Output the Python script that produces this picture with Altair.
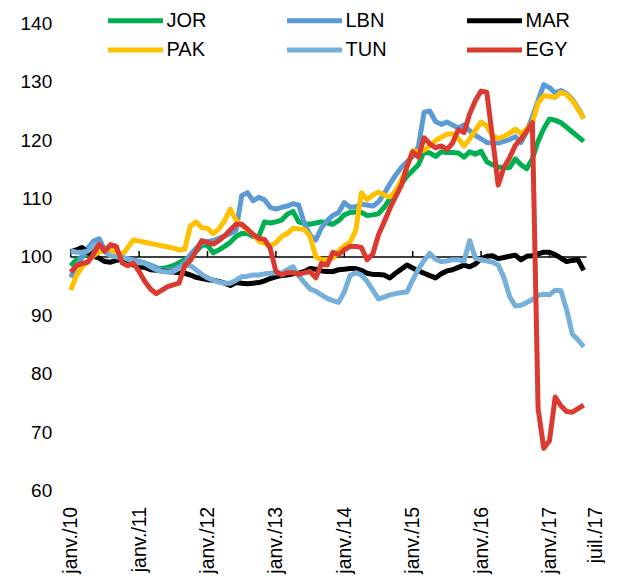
import altair as alt
import pandas as pd

FONT = "Liberation Sans, Arial, sans-serif"

months = list(range(91))  # 0 = janv. 2010 ... 90 = juil. 2017

series_names = ["JOR", "LBN", "MAR", "PAK", "TUN", "EGY"]
series_colors = ["#00B050", "#5B9BD5", "#000000", "#FFC000", "#76AFDA", "#DA3A2F"]

JOR = [98.5, 99.5, 100, 100.5, 101.5, 102, 101.5, 101.5, 101, 100,
       99.5, 99.5, 99, 98.5, 98.2, 98, 98, 98.2, 98.5, 99,
       99.5, 100, 100.9, 102, 102, 100.7, 101.2, 101.8, 102.5, 103.5,
       104, 104, 103.5, 103.5, 106, 105.8, 106, 106.3, 107.3, 107.8,
       106, 105.7, 105.6, 105.8, 106, 105.8, 105.6, 106.2, 107.2, 107.6,
       107.7, 107.6, 107.1, 107.2, 107.4, 108.5, 110, 111.3, 112.5, 113.8,
       114.8, 115.8, 118, 117.8, 117.2, 118, 117.9, 117.9, 117.8, 117.1,
       118, 117.6, 118.1, 116.3, 115.8, 115.4, 115.3, 115.3, 116.8, 115.8,
       115.1, 116.8, 119.8, 122, 123.6, 123.4, 123, 122.2, 121.4, 120.6,
       119.8]

LBN = [96.5, 98.5, 100, 101.5, 102.7, 103.1, 101.2, 101.7, 101, 99.7,
       99.7, 99.5, 99.2, 99, 98.6, 98.2, 97.7, 97.7, 97.8, 98.3,
       99, 100.4, 101.5, 102.3, 102.6, 102.8, 103.2, 103.6, 104, 104.5,
       110.5, 111, 109.6, 110.2, 109.8, 108.5, 108.2, 108.5, 108.7, 109.1,
       108.9, 105.7, 103.7, 102.9, 105, 106.2, 107.1, 107.6, 109.3, 108.5,
       108.6, 109, 108.9, 108.7, 109.4, 110.8, 112.5, 114, 115.3, 116.3,
       117.2, 118.9, 124.8, 125, 123.2, 122.7, 123.1, 122.6, 122, 122.6,
       121.6, 120.8, 120.2, 119.6, 119.5, 119.5, 119.8, 120.1, 120.6, 119.6,
       121.5, 124, 126.8, 129.5, 129, 128.1, 128.5, 128, 127, 125.5,
       123.7]

MAR = [100.9, 101.2, 101.6, 100.8, 100.1, 99.8, 99.2, 99.1, 99.4, 99.6,
       99.3, 98.6, 98.3, 98.2, 97.8, 97.7, 97.6, 97.5, 97.4, 97.3,
       97.2, 96.9, 96.5, 96.3, 96.1, 96, 95.8, 95.5, 95.1, 95.6,
       95.5, 95.4, 95.5, 95.6, 95.9, 96.3, 96.6, 96.8, 96.9, 97.1,
       97.2, 97.5, 98, 97.9, 97.6, 97.5, 97.5, 97.8, 97.9, 98,
       98, 97.7, 97.2, 97, 97, 96.9, 96.4, 97.2, 97.9, 98.6,
       98.1, 97.6, 97.2, 96.8, 96.4, 97.1, 97.6, 97.8, 98.2, 98.6,
       98.3, 98.8, 99.7, 100.1, 100.2, 99.7, 99.9, 100.1, 100.3, 99.5,
       100.1, 100.2, 100.5, 100.8, 100.8, 100.4, 99.8, 99.2, 99.4, 99.5,
       97.7]

PAK = [94.3, 96.8, 98.3, 99.2, 100.2, 100.9, 101, 101.1, 100.9, 100.3,
       101.6, 102.9, 102.7, 102.5, 102.3, 102.1, 101.9, 101.7, 101.5, 101.2,
       101.3, 105.3, 106, 105, 104.9, 104, 104.8, 106.2, 108.2, 106.3,
       105.4, 104.6, 103.9, 102.7, 102.3, 101.9, 102.4, 103.5, 104, 104.9,
       104.8, 104.7, 103.5, 100, 99.5, 99.5, 99.8, 101, 101.9, 102.5,
       104.5, 111, 109.8, 110.6, 111.1, 110.6, 110.3, 111.2, 113.2, 115.4,
       118.2, 118, 118.3, 119, 119.9, 120.5, 121, 121.1, 120.3, 119,
       120.2, 121.7, 123.1, 122.4, 120.8, 120.3, 120.6, 121.2, 121.9, 121.1,
       121.9, 123, 126.4, 127.6, 127.5, 127.3, 128.2, 127.8, 126.8, 125.3,
       123.7]

TUN = [101, 100.8, 100.8, 101, 102, 102.3, 100.8, 100.2, 100, 100,
       99.6, 99.2, 99, 98.9, 98.3, 97.8, 97.5, 97.4, 97.5, 98,
       98.5, 98.5, 97.8, 97, 96.4, 96, 95.7, 95.5, 95.5, 96,
       96.6, 96.7, 96.9, 96.9, 97.1, 97.2, 97.3, 97.2, 97.8, 98.3,
       96.8, 95.6, 94.5, 94.1, 93.5, 92.9, 92.5, 92.2, 94, 96.8,
       97.3, 96.9, 95.8, 94.3, 92.8, 93.1, 93.5, 93.7, 93.9, 94,
       96, 97.9, 99.4, 100.6, 99.6, 99.2, 99.3, 99.5, 99.5, 99.3,
       102.8, 99.8, 99.5, 99.3, 99.1, 98.6, 96.5, 93.2, 91.6, 91.7,
       92.2, 92.7, 93.4, 93.6, 93.5, 94.3, 94.2, 91, 86.8, 85.8,
       84.6]

EGY = [97.4, 98.5, 98.9, 99.1, 100.5, 102.2, 101, 102.1, 101.8, 99,
       98.5, 98.9, 97.5, 95.8, 94.5, 93.7, 94.3, 94.9, 95.2, 95.5,
       98.5, 99.4, 101, 102.8, 102.5, 102.2, 102.8, 103.6, 104.6, 105.6,
       105.6, 104.8, 103.8, 103.2, 103, 101.5, 97.5, 96.9, 97.3, 97.3,
       97, 97.3, 97.5, 96.4, 98.9, 98.6, 100.8, 100.4, 101.2, 101.8,
       101.8, 101.6, 99.5, 100.5, 103.8, 106, 108.3, 110.3, 112.2, 115.5,
       118, 117.1, 120.4, 119.4, 118.7, 119, 118.4, 119.5, 121.8, 121.3,
       124.5, 126.8, 128.4, 128.2, 120.5, 112.3, 115.3, 117, 119.1, 120.2,
       121.5, 123, 74, 67.2, 68.5, 76, 74.5, 73.5, 73.4, 74,
       74.6]

series_values = [JOR, LBN, MAR, PAK, TUN, EGY]

y_ticks = [60, 70, 80, 90, 100, 110, 120, 130, 140]
label_months = [0, 12, 24, 36, 48, 60, 72, 84, 92]
label_texts = ["janv./10", "janv./11", "janv./12", "janv./13", "janv./14",
               "janv./15", "janv./16", "janv./17", "juil./17"]
axis_cross = 100
axis_span = [0, 90.5]
tick_months = [0, 12, 24, 36, 48, 60, 72, 84]
tick_top = 101

rows = []
for name, vals in zip(series_names, series_values):
    for m, v in zip(months, vals):
        rows.append({"m": m, "v": v, "series": name})
df = pd.DataFrame(rows)

axis_df = pd.DataFrame({"m": [axis_span[0]], "m2": [axis_span[1]], "v": [axis_cross]})
ticks_df = pd.DataFrame({"m": tick_months, "v": [axis_cross] * len(tick_months),
                         "v2": [tick_top] * len(tick_months)})

label_expr = "[" + ",".join("'%s'" % t for t in label_texts) + "][indexof([" + \
    ",".join(str(v) for v in label_months) + "], datum.value)]"

x_scale = alt.Scale(domain=[0, 92], nice=False, zero=False)
y_scale = alt.Scale(domain=[60, 140], nice=False, zero=False)

x_enc = alt.X("m:Q", scale=x_scale,
              axis=alt.Axis(values=label_months, labelExpr=label_expr, labelAngle=270,
                            domain=False, ticks=False, tickSize=0, grid=False,
                            labelPadding=16, labelFontSize=19.5, labelFont=FONT,
                            labelColor="black", labelFlush=False, labelOverlap=False,
                            title=None))
y_enc = alt.Y("v:Q", scale=y_scale,
              axis=alt.Axis(values=y_ticks, domain=False, ticks=False, tickSize=0,
                            grid=False, labelPadding=19, labelFontSize=19,
                            labelFont=FONT, labelColor="black", title=None))

legend = alt.Legend(orient="none", legendX=37.3, legendY=-12.7, columns=3,
                    direction="horizontal",
                    symbolType="M-5,0H5", symbolSize=121, symbolStrokeWidth=5,
                    symbolOffset=17.5, labelOffset=21, labelFontSize=20,
                    labelFont=FONT, labelColor="black", columnPadding=70,
                    rowPadding=9.3, title=None, padding=0)

color_enc = alt.Color("series:N", scale=alt.Scale(domain=series_names, range=series_colors),
                      legend=legend)

axis_rule = alt.Chart(axis_df).mark_rule(color="black", strokeWidth=1.5).encode(
    x=x_enc, x2="m2:Q", y=y_enc)
tick_rules = alt.Chart(ticks_df).mark_rule(color="black", strokeWidth=1.5).encode(
    x="m:Q", y="v:Q", y2="v2:Q")

layers = [axis_rule, tick_rules]
for name in series_names:
    layers.append(
        alt.Chart(df).transform_filter(alt.datum.series == name)
        .mark_line(strokeWidth=5, strokeJoin="round")
        .encode(x=x_enc, y=y_enc, color=color_enc)
    )

chart = alt.layer(*layers).properties(
    width=524.4, height=467,
    autosize=alt.AutoSizeParams(type="none"),
    padding={"left": 62.7, "top": 15.4, "right": 10, "bottom": 88},
    background="white",
).configure_view(stroke="transparent")

chart.save("out.html", embed_options={"renderer": "svg", "actions": False})
